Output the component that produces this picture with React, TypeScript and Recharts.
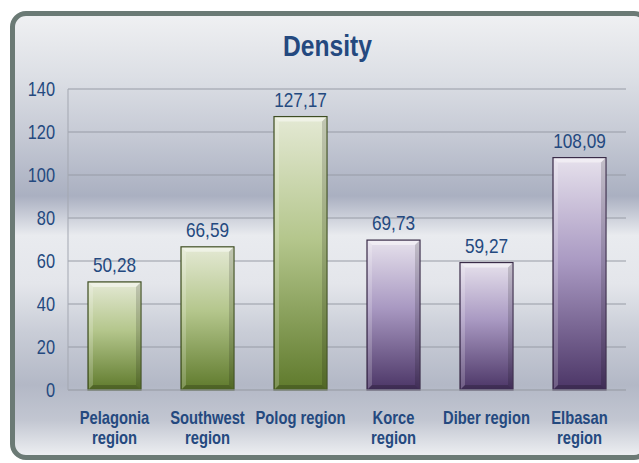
import { BarChart, Bar, XAxis, YAxis, CartesianGrid, LabelList } from 'recharts'

const categories = [
  'Pelagonia\nregion',
  'Southwest\nregion',
  'Polog region',
  'Korce\nregion',
  'Diber region',
  'Elbasan\nregion',
]
const density = [50.28, 66.59, 127.17, 69.73, 59.27, 108.09]
const barTone = ['green', 'green', 'green', 'purple', 'purple', 'purple']
const yTicks = [0, 20, 40, 60, 80, 100, 120, 140]

const data = categories.map((name, i) => ({ name, value: density[i], tone: barTone[i] }))

// no Arial Narrow here, so squeeze Liberation Sans sideways
const FONT = "'Liberation Sans', Arial, sans-serif"
const SQUEEZE = 0.82
const BLUE = '#24497f'

function fmt(v: number) {
  return v.toFixed(2).replace('.', ',')
}

function BevelBar(props: any) {
  const { x, y, width, height, payload } = props
  if (!height || height <= 0) return null
  const tone = payload.tone
  const edge = tone === 'green' ? '#3e4d22' : '#3a2c48'
  const b = 4
  return (
    <g>
      <rect x={x} y={y} width={width} height={height} fill={`url(#grad-${tone})`} stroke={edge} strokeWidth={1.2} />
      <path
        d={`M${x + 1},${y + 1} L${x + width - 1},${y + 1} L${x + width - 1 - b},${y + 1 + b} L${x + 1 + b},${y + 1 + b} Z`}
        fill="#ffffff"
        opacity={0.45}
      />
      <path
        d={`M${x + 1},${y + 1} L${x + 1 + b},${y + 1 + b} L${x + 1 + b},${y + height - 1 - b} L${x + 1},${y + height - 1} Z`}
        fill="#ffffff"
        opacity={0.2}
      />
      <path
        d={`M${x + width - 1},${y + 1} L${x + width - 1},${y + height - 1} L${x + width - 1 - b},${y + height - 1 - b} L${x + width - 1 - b},${y + 1 + b} Z`}
        fill="#000000"
        opacity={0.15}
      />
      <path
        d={`M${x + 1},${y + height - 1} L${x + width - 1},${y + height - 1} L${x + width - 1 - b},${y + height - 1 - b} L${x + 1 + b},${y + height - 1 - b} Z`}
        fill="#000000"
        opacity={0.2}
      />
    </g>
  )
}

function CatTick({ x, y, payload }: any) {
  const lines = String(payload.value).split('\n')
  return (
    <g transform={`translate(${x},${y}) scale(${SQUEEZE},1)`}>
      <text x={0} y={0} textAnchor="middle" fill={BLUE} fontFamily={FONT} fontWeight="bold" fontSize={18}>
        {lines.map((l, i) => (
          <tspan key={i} x={0} dy={i === 0 ? 26 : 20}>{l}</tspan>
        ))}
      </text>
    </g>
  )
}

function ValTick({ x, y, payload }: any) {
  return (
    <g transform={`translate(${x},${y}) scale(${SQUEEZE},1)`}>
      <text x={0} y={0} dy="0.355em" textAnchor="end" fill={BLUE} fontFamily={FONT} fontSize={20}>
        {payload.value}
      </text>
    </g>
  )
}

function TopLabel({ x, y, width, value }: any) {
  const cx = x + width / 2
  return (
    <g transform={`translate(${cx},${y - 10}) scale(${SQUEEZE},1)`}>
      <text x={0} y={0} textAnchor="middle" fill={BLUE} fontFamily={FONT} fontSize={21}>
        {fmt(Number(value))}
      </text>
    </g>
  )
}

export default function App() {
  return (
    <div style={{ position: 'fixed', left: 0, top: 0, width: 639, height: 463, background: '#ffffff', overflow: 'hidden' }}>
      <div
        style={{
          position: 'absolute',
          left: 10,
          top: 11,
          width: 640,
          height: 449,
          boxSizing: 'border-box',
          border: '5px solid #6b7a75',
          borderRadius: 16,
          background:
            'linear-gradient(180deg, #eff0f2 0%, #dcdfe5 14%, #c6cad5 27%, #aab0c1 41%, #e9ebef 50%, #e4e6eb 61%, #c9cdd7 72%, #b3b8c6 84%, #c2c6d1 92%, #eceef1 100%)',
        }}
      />
      <div
        style={{
          position: 'absolute',
          left: 0,
          top: 29,
          width: 655,
          textAlign: 'center',
          fontFamily: FONT,
          fontWeight: 'bold',
          fontSize: 30,
          color: BLUE,
          transform: `scaleX(${SQUEEZE})`,
        }}
      >
        Density
      </div>
      <div style={{ position: 'absolute', left: 0, top: 0 }}>
        <BarChart
          width={639}
          height={463}
          data={data}
          margin={{ top: 89, right: 13, bottom: 0, left: 0 }}
          barCategoryGap="21.5%"
        >
          <defs>
            <linearGradient id="grad-green" x1="0" y1="0" x2="0" y2="1">
              <stop offset="0%" stopColor="#e4e9d4" />
              <stop offset="45%" stopColor="#b4c68c" />
              <stop offset="100%" stopColor="#5f7a2c" />
            </linearGradient>
            <linearGradient id="grad-purple" x1="0" y1="0" x2="0" y2="1">
              <stop offset="0%" stopColor="#e6e1ec" />
              <stop offset="45%" stopColor="#a999c2" />
              <stop offset="100%" stopColor="#4b3566" />
            </linearGradient>
          </defs>
          <CartesianGrid vertical={false} stroke="#979ba6" strokeWidth={1.2} />
          <XAxis
            dataKey="name"
            height={73}
            interval={0}
            tickLine={false}
            axisLine={{ stroke: '#a3a7b1' }}
            tick={<CatTick />}
          />
          <YAxis
            width={68}
            domain={[0, 140]}
            ticks={yTicks}
            interval={0}
            tickLine={false}
            tickSize={0}
            tickMargin={13}
            axisLine={{ stroke: '#a3a7b1' }}
            tick={<ValTick />}
          />
          <Bar dataKey="value" isAnimationActive={false} shape={<BevelBar />}>
            <LabelList dataKey="value" content={<TopLabel />} />
          </Bar>
        </BarChart>
      </div>
    </div>
  )
}
